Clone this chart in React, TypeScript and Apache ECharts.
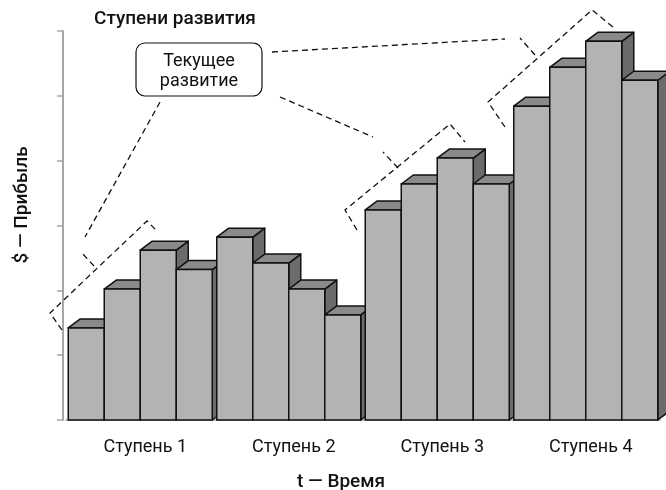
import React, { useEffect, useRef } from "react";
import * as echarts from "echarts";

const stages = ["Ступень 1", "Ступень 2", "Ступень 3", "Ступень 4"];
const stage1Values = [1.42, 2.02, 2.62, 2.32];
const stage2Values = [2.82, 2.42, 2.02, 1.62];
const stage3Values = [3.24, 3.64, 4.04, 3.64];
const stage4Values = [4.84, 5.44, 5.84, 5.24];
const yTickValues = [0, 1, 2, 3, 4, 5, 6];

const titleText = "Ступени развития";
const yName = "$ — Прибыль";
const xName = "t — Время";
const calloutLines = ["Текущее", "развитие"];

const FONT = "Roboto, 'DejaVu Sans', sans-serif";

export default function App() {
  const ref = useRef<HTMLDivElement>(null);

  useEffect(() => {
    if (!ref.current) return;
    const chart = echarts.init(ref.current, null, { renderer: "svg" });

    const allStages = [stage1Values, stage2Values, stage3Values, stage4Values];
    const data: number[][] = [];
    allStages.forEach((vals, s) => vals.forEach((v, j) => data.push([s, j, v])));

    const DX = 12;
    const DY = 9;
    const stroke = "#111";
    const lw = 1.5;

    const dash = { stroke: "#111", lineWidth: 1.3, lineDash: [6, 4], fill: null };
    const poly = (pts: number[][]) => ({
      type: "polyline",
      shape: { points: pts },
      style: dash,
      z: 10,
    });

    const option: any = {
      animation: false,
      title: {
        text: titleText,
        left: 89,
        top: 3,
        textStyle: { fontFamily: FONT, fontSize: 19, fontWeight: 500, color: "#111" },
      },
      grid: { left: 66, right: 6, top: 31, bottom: 70 },
      xAxis: {
        type: "category",
        data: stages,
        axisLine: { show: true, lineStyle: { color: "#a6a6a6", width: 1.5 } },
        axisTick: { show: false },
        axisLabel: {
          margin: 16,
          formatter: (v: string) => "{a|" + v + "}",
          rich: {
            a: { fontFamily: FONT, fontSize: 18, color: "#111", padding: [0, 0, 0, 10] },
          },
        },
      },
      yAxis: {
        type: "value",
        min: yTickValues[0],
        max: yTickValues[yTickValues.length - 1],
        interval: 1,
        offset: 3,
        axisLine: { show: true, lineStyle: { color: "#a6a6a6", width: 2 } },
        axisTick: { show: true, length: 6, lineStyle: { color: "#a6a6a6", width: 1.5 } },
        axisLabel: { show: false },
        splitLine: { show: false },
      },
      series: [
        {
          type: "custom",
          data,
          encode: { x: 0, y: 2 },
          renderItem: (params: any, api: any) => {
            const s = api.value(0);
            const j = api.value(1);
            const v = api.value(2);
            const base = api.coord([s, 0]);
            const top = api.coord([s, v]);
            const band = api.size([1, 0])[0];
            const bw = (band - 4.5) / 4;
            const xL = base[0] - 2 * bw + j * bw;
            const xR = xL + bw;
            const yB = base[1];
            const yT = top[1];
            const k = params.dataIndex * 3;
            return {
              type: "group",
              children: [
                {
                  type: "polygon",
                  z2: k,
                  shape: { points: [[xR, yT], [xR + DX, yT - DY], [xR + DX, yB - DY], [xR, yB]] },
                  style: { fill: "#6b6b6b", stroke, lineWidth: lw, lineJoin: "round" },
                },
                {
                  type: "polygon",
                  z2: k + 1,
                  shape: { points: [[xL, yT], [xL + DX, yT - DY], [xR + DX, yT - DY], [xR, yT]] },
                  style: { fill: "#8a8a8a", stroke, lineWidth: lw, lineJoin: "round" },
                },
                {
                  type: "rect",
                  z2: k + 2,
                  shape: { x: xL, y: yT, width: bw, height: yB - yT },
                  style: { fill: "#b3b3b3", stroke, lineWidth: lw },
                },
              ],
            };
          },
        },
      ],
      graphic: [
        {
          type: "text",
          x: 20,
          y: 205,
          rotation: Math.PI / 2,
          style: {
            text: yName,
            fontFamily: FONT,
            fontSize: 19,
            fontWeight: 500,
            fill: "#111",
            align: "center",
            verticalAlign: "middle",
          },
        },
        {
          type: "text",
          x: 341,
          y: 480,
          style: {
            text: xName,
            fontFamily: FONT,
            fontSize: 19,
            fontWeight: 500,
            fill: "#111",
            align: "center",
            verticalAlign: "middle",
          },
        },
        // pointer lines
        poly([[160, 102], [85, 237]]),
        poly([[280, 97], [373, 137]]),
        poly([[272, 52], [505, 39]]),
        // braces
        poly([[62, 330], [50, 313], [147, 221], [158, 232]]),
        poly([[94, 266], [82, 253]]),
        poly([[357, 230], [345, 210], [450, 124], [465, 142]]),
        poly([[398, 168], [383, 152]]),
        poly([[505, 127], [488, 102], [592, 10], [613, 27]]),
        poly([[535, 55], [520, 38]]),
        // callout
        {
          type: "rect",
          shape: { x: 136, y: 43, width: 126, height: 53, r: 9 },
          style: { fill: "#fff", stroke: "#111", lineWidth: 1.2 },
          z: 11,
        },
        {
          type: "text",
          x: 199,
          y: 59,
          z: 12,
          style: {
            text: calloutLines[0],
            fontFamily: FONT,
            fontSize: 18,
            fill: "#111",
            align: "center",
            verticalAlign: "middle",
          },
        },
        {
          type: "text",
          x: 199,
          y: 79,
          z: 12,
          style: {
            text: calloutLines[1],
            fontFamily: FONT,
            fontSize: 18,
            fill: "#111",
            align: "center",
            verticalAlign: "middle",
          },
        },
      ],
    };

    chart.setOption(option);
    return () => chart.dispose();
  }, []);

  return (
    <div
      ref={ref}
      style={{ position: "fixed", left: 0, top: 0, width: 666, height: 490 }}
    />
  );
}
